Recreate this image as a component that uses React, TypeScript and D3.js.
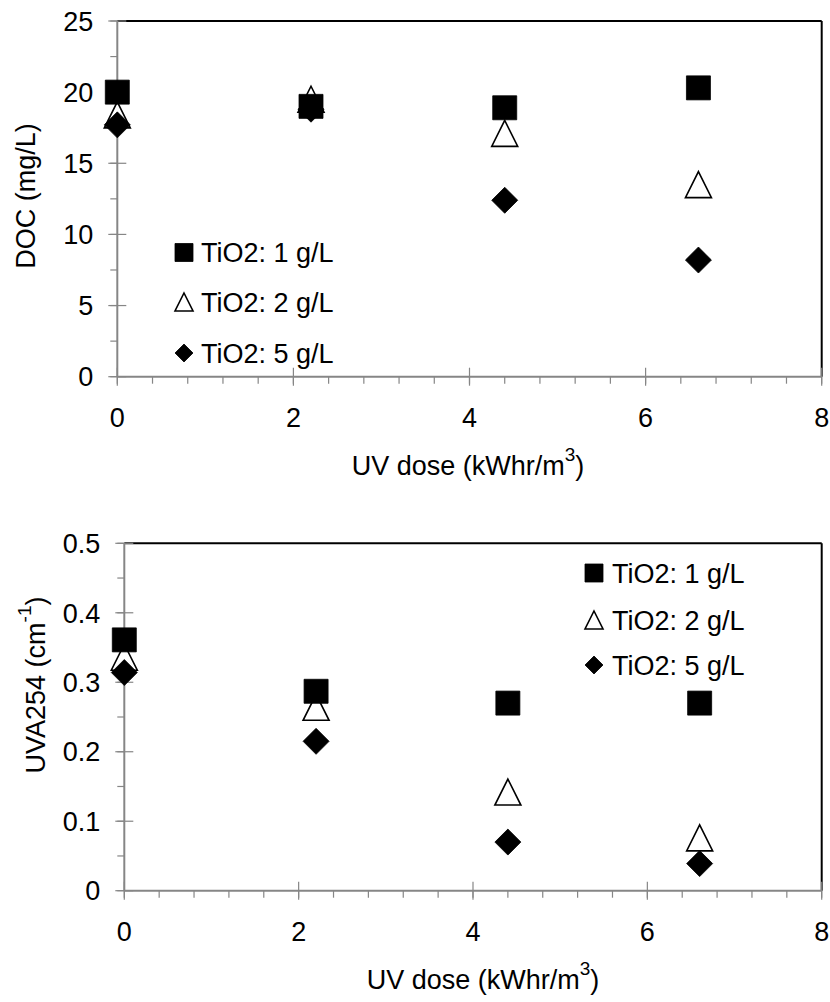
import React from 'react';
import * as d3 from 'd3';

const doseValues = [0, 2.2, 4.4, 6.6];
const docTiO2_1 = [20.0, 19.0, 18.9, 20.3];
const docTiO2_2 = [18.4, 19.5, 17.1, 13.5];
const docTiO2_5 = [17.7, 18.8, 12.4, 8.2];
const uvaTiO2_1 = [0.361, 0.287, 0.27, 0.27];
const uvaTiO2_2 = [0.336, 0.264, 0.142, 0.076];
const uvaTiO2_5 = [0.314, 0.215, 0.07, 0.039];
const seriesNames = ['TiO2: 1 g/L', 'TiO2: 2 g/L', 'TiO2: 5 g/L'];
const seriesShapes = ['square', 'triangle', 'diamond'];
const xTickValues = [0, 2, 4, 6, 8];
const docTickValues = [0, 5, 10, 15, 20, 25];
const uvaTickValues = [0, 0.1, 0.2, 0.3, 0.4, 0.5];

const FONT = "'Liberation Sans', Arial, sans-serif";
const FS = 27;
const AXIS_GRAY = '#868686';

function markerPath(shape: string, cx: number, cy: number, s: number): string {
  const h = s / 2;
  const p = d3.path();
  if (shape === 'square') {
    p.rect(cx - h, cy - h, s, s);
  } else if (shape === 'triangle') {
    p.moveTo(cx, cy - h);
    p.lineTo(cx + h, cy + h);
    p.lineTo(cx - h, cy + h);
    p.closePath();
  } else {
    p.moveTo(cx, cy - h);
    p.lineTo(cx + h, cy);
    p.lineTo(cx, cy + h);
    p.lineTo(cx - h, cy);
    p.closePath();
  }
  return p.toString();
}

function Marker({ shape, cx, cy, s }: { shape: string; cx: number; cy: number; s: number }) {
  const open = shape === 'triangle';
  return (
    <path
      d={markerPath(shape, cx, cy, s)}
      fill={open ? '#fff' : '#000'}
      stroke="#000"
      strokeWidth={open ? 1.6 : 0.8}
      strokeLinejoin="miter"
    />
  );
}

type PanelProps = {
  left: number; right: number; top: number; bottom: number;
  yMax: number; yTicks: number[]; yMinorStep: number; yFmt: (v: number) => string;
  series: number[][];
  legendX: number; legendTextX: number; legendRows: number[];
  xTitleX: number; yTitleX: number; yTitleY: number;
  yTitle: React.ReactNode;
};

function Panel(p: PanelProps) {
  const x = d3.scaleLinear().domain([0, 8]).range([p.left, p.right]);
  const y = d3.scaleLinear().domain([0, p.yMax]).range([p.bottom, p.top]);
  const xMinor = d3.range(0, 8.0001, 0.4);
  const yMinor = d3.range(0, p.yMax + 1e-9, p.yMinorStep);
  const drawOrder = [1, 2, 0];
  return (
    <g>
      {/* plot border (top/right black) */}
      <line x1={p.left} x2={p.right} y1={p.top} y2={p.top} stroke="#000" strokeWidth={2} />
      <line x1={p.right} x2={p.right} y1={p.top} y2={p.bottom} stroke="#000" strokeWidth={2} />
      {/* minor ticks */}
      {yMinor.map((v, i) => (
        <line key={'ym' + i} x1={p.left - 7} x2={p.left} y1={y(v)} y2={y(v)} stroke={AXIS_GRAY} strokeWidth={1.2} />
      ))}
      {xMinor.map((v, i) => (
        <line key={'xm' + i} x1={x(v)} x2={x(v)} y1={p.bottom} y2={p.bottom + 7} stroke={AXIS_GRAY} strokeWidth={1.2} />
      ))}
      {/* major ticks */}
      {p.yTicks.map((v, i) => (
        <line key={'yM' + i} x1={p.left - 9} x2={p.left + 9} y1={y(v)} y2={y(v)} stroke={AXIS_GRAY} strokeWidth={1.2} />
      ))}
      {xTickValues.map((v, i) => (
        <line key={'xM' + i} x1={x(v)} x2={x(v)} y1={p.bottom - 9} y2={p.bottom + 9} stroke={AXIS_GRAY} strokeWidth={1.2} />
      ))}
      {/* axes */}
      <line x1={p.left} x2={p.left} y1={p.top} y2={p.bottom} stroke={AXIS_GRAY} strokeWidth={2} />
      <line x1={p.left} x2={p.right} y1={p.bottom} y2={p.bottom} stroke={AXIS_GRAY} strokeWidth={2} />
      {/* tick labels */}
      {p.yTicks.map((v, i) => (
        <text key={'yl' + i} x={p.left - 24} y={y(v)} dy="0.36em" textAnchor="end" fontFamily={FONT} fontSize={FS}>
          {p.yFmt(v)}
        </text>
      ))}
      {xTickValues.map((v, i) => (
        <text key={'xl' + i} x={x(v)} y={p.bottom + 50} textAnchor="middle" fontFamily={FONT} fontSize={FS}>
          {String(v)}
        </text>
      ))}
      {/* data */}
      {drawOrder.map((si) => (
        <g key={'s' + si}>
          {p.series[si].map((v, j) => (
            <Marker key={j} shape={seriesShapes[si]} cx={x(doseValues[j])} cy={y(v)} s={si === 0 ? 24 : 26} />
          ))}
        </g>
      ))}
      {/* legend */}
      {seriesNames.map((name, i) => (
        <g key={'lg' + i}>
          <Marker shape={seriesShapes[i]} cx={p.legendX} cy={p.legendRows[i]} s={18} />
          <text x={p.legendTextX} y={p.legendRows[i]} dy="0.36em" fontFamily={FONT} fontSize={FS}>
            {name}
          </text>
        </g>
      ))}
      {/* axis titles */}
      <text x={p.xTitleX} y={p.bottom + 98} textAnchor="middle" fontFamily={FONT} fontSize={FS}>
        UV dose (kWhr/m<tspan fontSize={19} dy={-14}>3</tspan><tspan dy={14}>)</tspan>
      </text>
      <text
        transform={`translate(${p.yTitleX},${p.yTitleY}) rotate(-90)`}
        textAnchor="middle"
        fontFamily={FONT}
        fontSize={FS}
      >
        {p.yTitle}
      </text>
    </g>
  );
}

export default function App() {
  return (
    <svg
      width={830}
      height={1002}
      viewBox="0 0 830 1002"
      style={{ position: 'absolute', left: 0, top: 0, background: '#fff' }}
    >
      <rect x={0} y={0} width={830} height={1002} fill="#fff" />
      <Panel
        left={117.3} right={821.7} top={21} bottom={376.7}
        yMax={25} yTicks={docTickValues} yMinorStep={2.5} yFmt={(v) => String(v)}
        series={[docTiO2_1, docTiO2_2, docTiO2_5]}
        legendX={184} legendTextX={201} legendRows={[252.5, 302, 353]}
        xTitleX={468} yTitleX={34.5} yTitleY={196}
        yTitle={'DOC (mg/L)'}
      />
      <Panel
        left={124.3} right={821.7} top={543.3} bottom={890.7}
        yMax={0.5} yTicks={uvaTickValues} yMinorStep={0.05} yFmt={(v) => d3.format('.1f')(v).replace(/^0\.0$/, '0')}
        series={[uvaTiO2_1, uvaTiO2_2, uvaTiO2_5]}
        legendX={594} legendTextX={612} legendRows={[573, 620, 665]}
        xTitleX={483} yTitleX={45} yTitleY={685}
        yTitle={<>UVA254 (cm<tspan fontSize={19} dy={-14}>-1</tspan><tspan dy={14}>)</tspan></>}
      />
    </svg>
  );
}
